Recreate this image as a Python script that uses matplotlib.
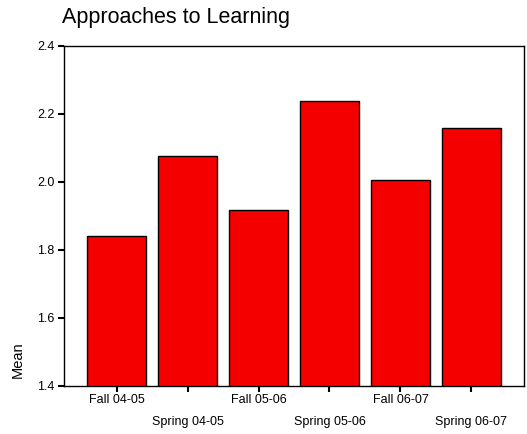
import matplotlib.pyplot as plt
import numpy as np

# Dados
terms = ['Fall 04-05', 'Spring 04-05', 'Fall 05-06', 'Spring 05-06', 'Fall 06-07', 'Spring 06-07']
means = [1.841, 2.076, 1.918, 2.237, 2.005, 2.158]
yticks = [1.4, 1.6, 1.8, 2.0, 2.2, 2.4]

plt.rcParams['font.family'] = ['Liberation Sans', 'DejaVu Sans']

fig = plt.figure(figsize=(5.27, 4.34), dpi=100)
ax = fig.add_axes([64/527, 48/434, 460/527, 340/434])

x = np.arange(len(terms))
ax.bar(x, means, width=0.84, bottom=0, color='#f50000', edgecolor='black', linewidth=1.0)

ax.set_ylim(1.4, 2.4)
ax.set_xlim(-0.74, 5.74)
ax.set_yticks(yticks)
ax.set_yticklabels([f'{v:.1f}' for v in yticks], fontsize=9)
ax.set_xticks(x)
ax.set_xticklabels([])

# Rótulos alternados no eixo x
for i, t in enumerate(terms):
    ax.annotate(t, xy=(i, 1.4), xytext=(0, -6 if i % 2 == 0 else -21.5),
                textcoords='offset points', ha='center', va='top', fontsize=9,
                annotation_clip=False)

ax.tick_params(axis='both', direction='out', length=4, width=1.5, color='black', pad=3)
for s in ax.spines.values():
    s.set_linewidth(1.0)

ax.set_ylabel('Mean', fontsize=10.5)
ax.yaxis.set_label_coords(-0.085, 0.076)

fig.text(62/527, 1 - 18/434, 'Approaches to Learning', fontsize=15.5, va='center', ha='left')

fig.savefig('out.png', dpi=100)
